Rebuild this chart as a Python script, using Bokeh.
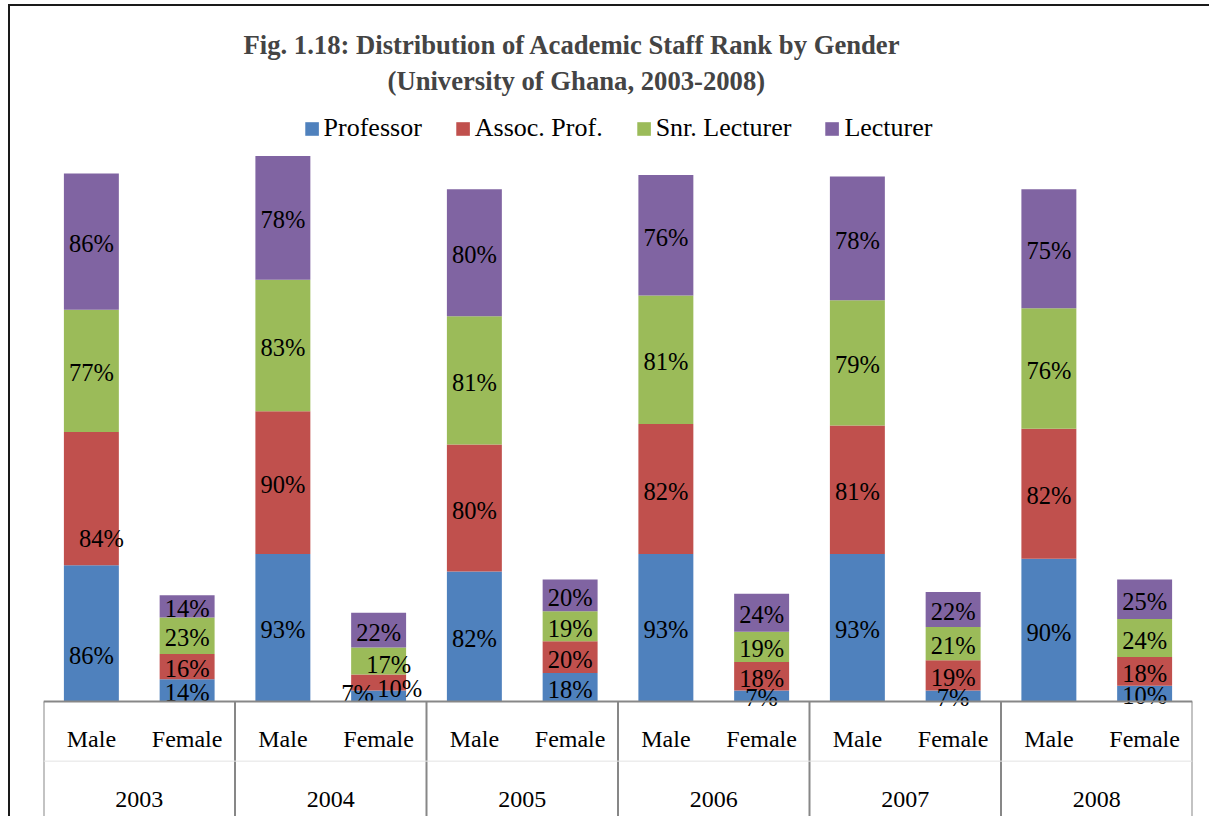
from bokeh.plotting import figure
from bokeh.models import (FactorRange, Range1d, ColumnDataSource, CategoricalAxis,
                          Legend, LegendItem, Title, Span)
from bokeh.core.properties import value
from bokeh.embed import file_html
from bokeh.resources import INLINE

# ---------------- data ----------------
years = ["2003", "2004", "2005", "2006", "2007", "2008"]
genders = ["Male", "Female"]
ranks = ["Professor", "Assoc. Prof.", "Snr. Lecturer", "Lecturer"]
# order: 2003 Male, 2003 Female, 2004 Male, 2004 Female, ...
professor    = [86, 14, 93, 7, 82, 18, 93, 7, 93, 7, 90, 10]
assoc_prof   = [84, 16, 90, 10, 80, 20, 82, 18, 81, 19, 82, 18]
snr_lecturer = [77, 23, 83, 17, 81, 19, 81, 19, 79, 21, 76, 24]
lecturer     = [86, 14, 78, 22, 80, 20, 76, 24, 78, 22, 75, 25]
title_line1 = "Fig. 1.18: Distribution of Academic Staff  Rank by Gender"
title_line2 = "(University of Ghana, 2003-2008)"

# ---------------- styles ----------------
colors = ["#4F81BD", "#C0504D", "#9BBB59", "#8064A2"]
FONT = "Liberation Serif"
GRID_GRAY = "#878787"
# label nudges (pixels, +y = down) for labels Excel moved off-centre
label_nudge = {
    ("2003", "Male", "Professor"): (0, 20),
    ("2003", "Male", "Assoc. Prof."): (10, 38),
    ("2004", "Female", "Professor"): (-21, -4),
    ("2004", "Female", "Assoc. Prof."): (21, 4),
    ("2004", "Female", "Snr. Lecturer"): (10, 1),
}
BASE_DY = 2

# chart border (left and top edges of the chart area) drawn as CSS background
border_css = {
    "background-image": "linear-gradient(#1a1a1a, #1a1a1a), linear-gradient(#1a1a1a, #1a1a1a)",
    "background-size": "1201px 2px, 2px 812px",
    "background-position": "8px 4px, 8px 4px",
    "background-repeat": "no-repeat",
}

factors = [(y, g) for y in years for g in genders]
series = {"Professor": professor, "Assoc. Prof.": assoc_prof,
          "Snr. Lecturer": snr_lecturer, "Lecturer": lecturer}

src = ColumnDataSource(dict(x=factors, **series))

p = figure(x_range=FactorRange(*factors, range_padding=0, group_padding=0, factor_padding=0),
           y_range=Range1d(-72.5, 379.0),
           width=1209, height=816,
           x_axis_location=None, y_axis_location=None,
           toolbar_location=None, output_backend="svg",
           min_border_left=43, min_border_right=17, min_border_top=100, min_border_bottom=0,
           styles=border_css)
p.outline_line_color = None
p.grid.visible = False
p.background_fill_color = None
p.border_fill_color = None

p.extra_x_ranges = {"years": FactorRange(*years, range_padding=0)}

renderers = p.vbar_stack(ranks, x="x", width=0.574, source=src,
                         fill_color=colors, line_color=None)

# data labels
lx, ly, lt, ldx, ldy = [], [], [], [], []
for i, f in enumerate(factors):
    base = 0
    for r in ranks:
        v = series[r][i]
        lx.append(f)
        ly.append(base + v / 2)
        lt.append(f"{v}%")
        dx, dy = label_nudge.get((f[0], f[1], r), (0, 0))
        ldx.append(dx)
        ldy.append(dy + BASE_DY)
        base += v
lsrc = ColumnDataSource(dict(x=lx, y=ly, text=lt, dx=ldx, dy=ldy))
p.text(x="x", y="y", text="text", x_offset="dx", y_offset="dy", source=lsrc,
       text_align="center", text_baseline="middle", text_color="black",
       text_font=value(FONT), text_font_size="24.5px")

# category axis (gender level)
ax = CategoricalAxis(fixed_location=0)
ax.axis_line_color = GRID_GRAY
ax.axis_line_width = 2
ax.major_tick_line_color = None
ax.minor_tick_line_color = None
ax.major_label_standoff = 18
ax.major_label_text_font = FONT
ax.major_label_text_font_size = "24px"
ax.major_label_text_color = "black"
ax.group_text_color = None
ax.group_text_font_size = "1px"
ax.separator_line_color = None
p.add_layout(ax, "below")

# year level axis
ax2 = CategoricalAxis(x_range_name="years", fixed_location=0)
ax2.axis_line_color = None
ax2.major_tick_line_color = None
ax2.minor_tick_line_color = None
ax2.major_label_standoff = 84
ax2.major_label_text_font = FONT
ax2.major_label_text_font_size = "24px"
ax2.major_label_text_color = "black"
p.add_layout(ax2, "below")

# separators of the category table
bounds = [(y, -0.5) for y in years] + [(years[-1], 0.5)]
p.segment(x0=bounds, y0=[0] * len(bounds), x1=bounds, y1=[p.y_range.start] * len(bounds),
          x_range_name="years", line_color=GRID_GRAY, line_width=2)
p.add_layout(Span(location=-37.6, dimension="width", line_color="#e4e4e4", line_width=1))

# legend
legend = Legend(items=[LegendItem(label=r, renderers=[rd]) for r, rd in zip(ranks, renderers)],
                orientation="horizontal", location="top_center",
                glyph_width=17, glyph_height=17, label_standoff=4, spacing=32,
                padding=0, margin=13, border_line_color=None, background_fill_alpha=0,
                label_text_font=FONT, label_text_font_size="26px", label_text_color="black")
p.add_layout(legend)

# titles (added nearest-first)
p.add_layout(Title(text=title_line2, align="left", offset=344, standoff=9,
                   text_font=FONT, text_font_size="20pt", text_font_style="bold"), "above")
p.add_layout(Title(text=title_line1, align="left", offset=200, standoff=0,
                   text_font=FONT, text_font_size="20pt", text_font_style="bold"), "above")

open("out.html", "w").write(file_html(p, INLINE))
